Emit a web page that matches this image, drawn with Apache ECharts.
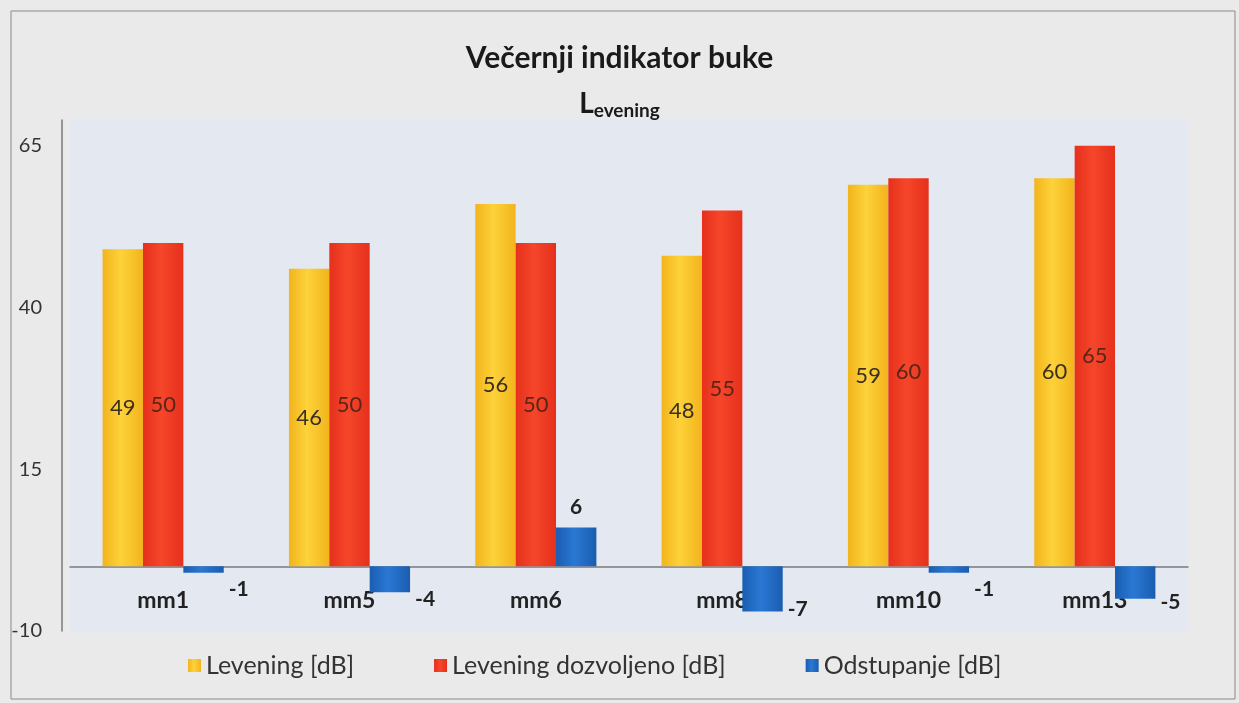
<!DOCTYPE html>
<html>
<head>
<meta charset="utf-8">
<title>Večernji indikator buke</title>
<script src="https://cdn.jsdelivr.net/npm/echarts@6/dist/echarts.min.js"></script>
<style>
  html, body { margin: 0; padding: 0; background: #e9e9e9; }
  #chart { width: 1239px; height: 703px; }
</style>
</head>
<body>
<div id="chart"></div>
<script>
// mjerna mjesta
const categories = ['mm1', 'mm5', 'mm6', 'mm8', 'mm10', 'mm13'];
// izmjereno, dozvoljeno i odstupanje [dB]
const levening = [49, 46, 56, 48, 59, 60];
const leveningDozvoljeno = [50, 50, 50, 55, 60, 65];
const odstupanje = [-1, -4, 6, -7, -1, -5];
const seriesNames = ['Levening [dB]', 'Levening dozvoljeno [dB]', 'Odstupanje [dB]'];

const FONT = 'Lato, "Open Sans", sans-serif';

// bar shading, lighter in the middle
const shade = (edge, mid) => new echarts.graphic.LinearGradient(0, 0, 1, 0, [
    { offset: 0, color: edge },
    { offset: 0.45, color: mid },
    { offset: 1, color: edge }
]);

// pozitivno odstupanje iznad stupca, negativno desno ispod
const odstupanjeData = odstupanje.map(v => ({
    value: v,
    label: v >= 0
        ? { position: 'top', distance: 10 }
        : { position: 'right', distance: 5, offset: [0, 20] }
}));

const chart = echarts.init(document.getElementById('chart'), null, { renderer: 'canvas' });

chart.setOption({
    backgroundColor: '#eaeaea',
    animation: false,
    textStyle: { fontFamily: FONT },
    graphic: [
        {
            // okvir dijagrama
            type: 'rect',
            shape: { x: 11, y: 11, width: 1224, height: 688 },
            style: { fill: 'none', stroke: '#8a8a8a', lineWidth: 1 },
            silent: true
        }
    ],
    title: [
        {
            text: 'Večernji indikator buke',
            left: 'center',
            top: 38,
            textStyle: { fontFamily: FONT, fontSize: 30, fontWeight: 'bold', color: '#1a1a1a' }
        },
        {
            text: '{l|L}{s|evening}',
            left: 'center',
            top: 82,
            textStyle: {
                rich: {
                    l: { fontFamily: FONT, fontSize: 28, fontWeight: 'bold', color: '#1a1a1a' },
                    s: { fontFamily: FONT, fontSize: 19, fontWeight: 'bold', color: '#1a1a1a', padding: [14, 0, 0, 0] }
                }
            }
        }
    ],
    legend: {
        data: seriesNames,
        left: 183,
        top: 648,
        itemWidth: 13,
        itemHeight: 13,
        itemGap: 80,
        icon: 'rect',
        textStyle: { fontFamily: FONT, fontSize: 25, color: '#333' }
    },
    grid: {
        left: 70,
        right: 51,
        top: 120,
        bottom: 72,
        show: true,
        backgroundColor: '#e3e8f1',
        borderWidth: 0
    },
    xAxis: {
        type: 'category',
        data: categories,
        axisLine: { onZero: true, lineStyle: { color: '#7a7a7a', width: 1.5 } },
        axisTick: { show: false },
        axisLabel: {
            margin: -42,
            fontFamily: FONT,
            fontSize: 23,
            fontWeight: 'bold',
            color: '#222'
        }
    },
    yAxis: {
        type: 'value',
        min: -10,
        max: 69,
        interval: 25,
        offset: 8,
        axisLine: { show: true, lineStyle: { color: '#7a7a7a', width: 1.5 } },
        axisTick: { show: false },
        splitLine: { show: false },
        axisLabel: {
            showMaxLabel: false,
            margin: 20,
            fontFamily: FONT,
            fontSize: 20,
            color: '#333'
        }
    },
    series: [
        {
            name: seriesNames[0],
            type: 'bar',
            data: levening,
            barGap: '0%',
            barCategoryGap: '35%',
            itemStyle: { color: shade('#f2b41c', '#fdd23a') },
            label: {
                show: true,
                position: 'inside',
                fontFamily: FONT,
                fontSize: 22,
                color: '#3a3020'
            }
        },
        {
            name: seriesNames[1],
            type: 'bar',
            data: leveningDozvoljeno,
            itemStyle: { color: shade('#e6301c', '#f5462a') },
            label: {
                show: true,
                position: 'inside',
                fontFamily: FONT,
                fontSize: 22,
                color: '#5a2618'
            }
        },
        {
            name: seriesNames[2],
            type: 'bar',
            data: odstupanjeData,
            itemStyle: { color: shade('#1a5db0', '#2a78d4') },
            label: {
                show: true,
                fontFamily: FONT,
                fontSize: 21,
                fontWeight: 'bold',
                color: '#222'
            }
        }
    ]
});
</script>
</body>
</html>
